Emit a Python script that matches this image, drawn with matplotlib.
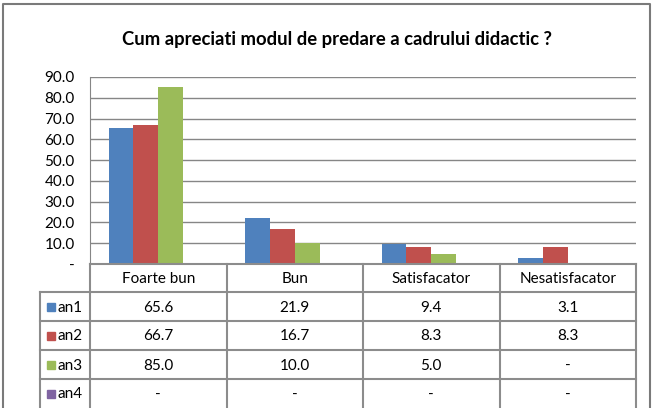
import numpy as np
import matplotlib.pyplot as plt

plt.rcParams['font.family'] = ['Lato', 'DejaVu Sans']

categories = ['Foarte bun', 'Bun', 'Satisfacator', 'Nesatisfacator']
series = ['an1', 'an2', 'an3', 'an4']
an1 = [65.6, 21.9, 9.4, 3.1]
an2 = [66.7, 16.7, 8.3, 8.3]
an3 = [85.0, 10.0, 5.0, 0.0]
an4 = [0.0, 0.0, 0.0, 0.0]
values = [an1, an2, an3, an4]
colors = ['#4F81BD', '#C0504D', '#9BBB59', '#8064A2']
title = 'Cum apreciati modul de predare a cadrului didactic ?'

W, H = 654, 408
grid_c = '#868686'
line_c = '#8c8c8c'
fs = 11

def fmt(v):
    return '-' if v == 0 else f'{v:.1f}'

fig = plt.figure(figsize=(W / 100, H / 100), dpi=100)

# plot area in pixel coords
px_l, px_r, px_t, px_b = 90, 636, 77, 264
ax = fig.add_axes([px_l / W, 1 - px_b / H, (px_r - px_l) / W, (px_b - px_t) / H])
ax.set_xlim(0, len(categories))
ax.set_ylim(0, 90)
ax.set_yticks(np.arange(0, 91, 10))
ax.set_yticklabels([fmt(t) for t in np.arange(0, 91, 10)], fontsize=fs)
ax.tick_params(axis='y', length=0, pad=11)
ax.set_xticks([])
ax.grid(axis='y', color=grid_c, linewidth=1)
ax.set_axisbelow(True)
for s in ['top', 'right', 'bottom']:
    ax.spines[s].set_visible(False)
ax.spines['left'].set_color(grid_c)

# bars: 4 per group, gap width 150%
bw = 1 / 5.5
x = np.arange(len(categories))
for i, (vals, c) in enumerate(zip(values, colors)):
    ax.bar(x + 0.75 * bw + i * bw, vals, width=bw, align='edge', color=c, zorder=3)

# overlay for table, title, border (pixel coordinates)
ov = fig.add_axes([0, 0, 1, 1], facecolor='none')
ov.set_xlim(0, W)
ov.set_ylim(H, 0)
ov.axis('off')

ov.text(337, 40, title, ha='center', va='center', fontsize=13.3, fontweight='bold')

# outer border
ov.plot([3, 3, 650, 650], [H + 5, 4, 4, H + 5], color='#7a7a7a', linewidth=1.5)

col_x = np.linspace(px_l, px_r, len(categories) + 1)
row_y = [264, 292, 321, 350, 379, 408]
leg_l = 40

# horizontal lines
ov.plot([px_l, px_r], [row_y[0], row_y[0]], color=line_c, lw=1.5)
for y in row_y[1:5]:
    ov.plot([leg_l, px_r], [y, y], color=line_c, lw=1.5)
# vertical lines
for cx in col_x:
    ov.plot([cx, cx], [row_y[0], H + 5], color=line_c, lw=1.5)
ov.plot([leg_l, leg_l], [row_y[1], H + 5], color=line_c, lw=1.5)

for j, cat in enumerate(categories):
    ov.text((col_x[j] + col_x[j + 1]) / 2, (row_y[0] + row_y[1]) / 2 + 1, cat,
            ha='center', va='center', fontsize=fs)

for i, (name, vals, c) in enumerate(zip(series, values, colors)):
    yc = (row_y[i + 1] + row_y[i + 2]) / 2 + 1
    ov.add_patch(plt.Rectangle((47, yc - 4.5), 8, 8, color=c))
    ov.text(58, yc, name, ha='left', va='center', fontsize=fs)
    for j, v in enumerate(vals):
        ov.text((col_x[j] + col_x[j + 1]) / 2, yc, fmt(v), ha='center', va='center', fontsize=fs)

fig.savefig('out.png', dpi=100)
